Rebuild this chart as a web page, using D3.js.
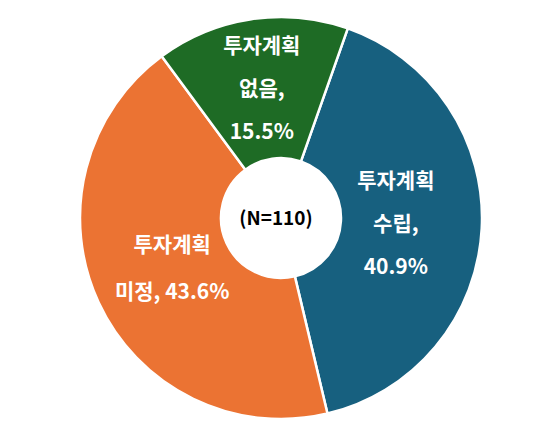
<!DOCTYPE html>
<html>
<head>
<meta charset="utf-8">
<script src="https://d3js.org/d3.v7.min.js"></script>
<style>body{margin:0;background:#fff}</style>
</head>
<body>
<script>
// data
var categories = ["투자계획 수립", "투자계획 미정", "투자계획 없음"];
var values = [40.9, 43.6, 15.5];
var colors = ["#17607f", "#eb7333", "#1e6b25"];
var labelLines = [["투자계획", "수립,", "40.9%"], ["투자계획", "미정, 43.6%"], ["투자계획", "없음,", "15.5%"]];
var labelRadius = [115, 120, 130];
var lineGap = [43, 47, 43];

var width = 549, height = 439, cx = 281, cy = 218, outer = 201, inner = 60;
var svg = d3.select("body").append("svg").attr("width", width).attr("height", height);
var g = svg.append("g").attr("transform", "translate(" + cx + "," + cy + ")");

var start = 19.4 * Math.PI / 180;
var pie = d3.pie().sort(null).startAngle(start).endAngle(start + 2 * Math.PI);
var arcs = pie(values);
var arc = d3.arc().innerRadius(inner).outerRadius(outer);

g.selectAll("path").data(arcs).enter().append("path")
    .attr("d", arc)
    .attr("fill", function (d, i) { return colors[i]; })
    .attr("stroke", "#fff").attr("stroke-width", 2.5);

arcs.forEach(function (d, i) {
    var c = d3.arc().innerRadius(labelRadius[i]).outerRadius(labelRadius[i]).centroid(d);
    var lines = labelLines[i];
    var t = g.append("text")
        .attr("text-anchor", "middle")
        .style("font-family", "'Noto Sans CJK KR', sans-serif")
        .style("font-weight", "bold")
        .style("font-size", "21px")
        .attr("fill", "#fff");
    lines.forEach(function (l, j) {
        t.append("tspan").attr("x", c[0])
            .attr("y", c[1] + (j - (lines.length - 1) / 2) * lineGap[i] + 7)
            .text(l);
    });
});

g.append("text").attr("text-anchor", "middle").attr("x", -5).attr("y", 7)
    .style("font-family", "'Noto Sans CJK KR', sans-serif")
    .style("font-weight", "bold").style("font-size", "19px")
    .text("(N=110)");
</script>
</body>
</html>
